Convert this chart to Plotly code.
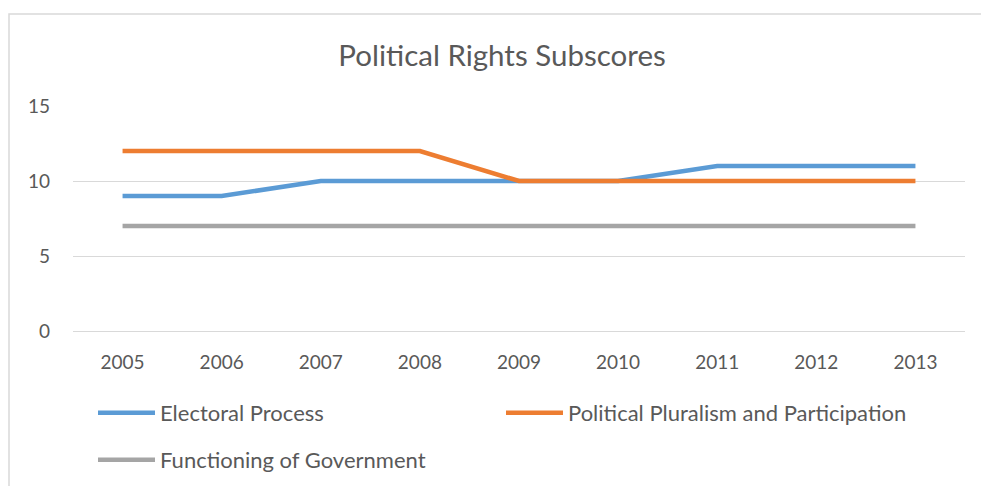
import plotly.graph_objects as go

years = ["2005", "2006", "2007", "2008", "2009", "2010", "2011", "2012", "2013"]
electoral = [9, 9, 10, 10, 10, 10, 11, 11, 11]
pluralism = [12, 12, 12, 12, 10, 10, 10, 10, 10]
functioning = [7, 7, 7, 7, 7, 7, 7, 7, 7]
y_ticks = [0, 5, 10, 15]

W, H = 981, 486
L, R, T, B = 73, 16, 106, 155
pw, ph = W - L - R, H - T - B

def px_x(x):
    return (x - L) / pw

def px_y(y):
    return (H - B - y) / ph

font = "Lato, 'Open Sans', sans-serif"
txt = "#595959"

fig = go.Figure()
fig.add_trace(go.Scatter(x=years, y=electoral, mode="lines", name="Electoral Process",
                         line=dict(color="#5B9BD5", width=4.5), legend="legend", showlegend=True))
fig.add_trace(go.Scatter(x=years, y=pluralism, mode="lines", name="Political Pluralism and Participation",
                         line=dict(color="#ED7D31", width=4.5), legend="legend2", showlegend=True))
fig.add_trace(go.Scatter(x=years, y=functioning, mode="lines", name="Functioning of Government",
                         line=dict(color="#A5A5A5", width=4.5), legend="legend3", showlegend=True))

leg_common = dict(orientation="h", xref="container", yref="container", xanchor="left", yanchor="middle",
                  font=dict(family=font, size=22, color=txt), itemwidth=57,
                  bgcolor="rgba(0,0,0,0)", visible=True)

fig.update_layout(
    width=W, height=H,
    showlegend=True,
    margin=dict(l=L, r=R, t=T, b=B),
    paper_bgcolor="white", plot_bgcolor="white",
    title=dict(text="Political Rights Subscores", x=502 / W, xanchor="center",
               y=1 - 56 / H, yanchor="middle", font=dict(family=font, size=29.5, color=txt)),
    xaxis=dict(type="category", range=[-0.5, 8.5], showgrid=False, showline=True,
               linecolor="#d9d9d9", linewidth=1, ticks="", tickfont=dict(family=font, size=19, color=txt),
               ticklabelstandoff=14),
    yaxis=dict(range=[0, 15], tickvals=y_ticks, showgrid=True, gridcolor="#d9d9d9", gridwidth=1,
               zeroline=False, showline=False, ticks="",
               tickfont=dict(family=font, size=19, color=txt), ticklabelstandoff=22),
    legend=dict(x=93 / W, y=1 - 413 / H, **leg_common),
    legend2=dict(x=501 / W, y=1 - 413 / H, **leg_common),
    legend3=dict(x=93 / W, y=1 - 460 / H, **leg_common),
    shapes=[dict(type="rect", xref="paper", yref="paper",
                 x0=px_x(9), x1=px_x(995), y0=px_y(500), y1=px_y(14),
                 line=dict(color="#d9d9d9", width=1.5), layer="below")],
)

fig.write_html("out.html", config={"displayModeBar": False},
               post_script="document.body.style.margin='0';document.body.style.overflow='hidden';")
